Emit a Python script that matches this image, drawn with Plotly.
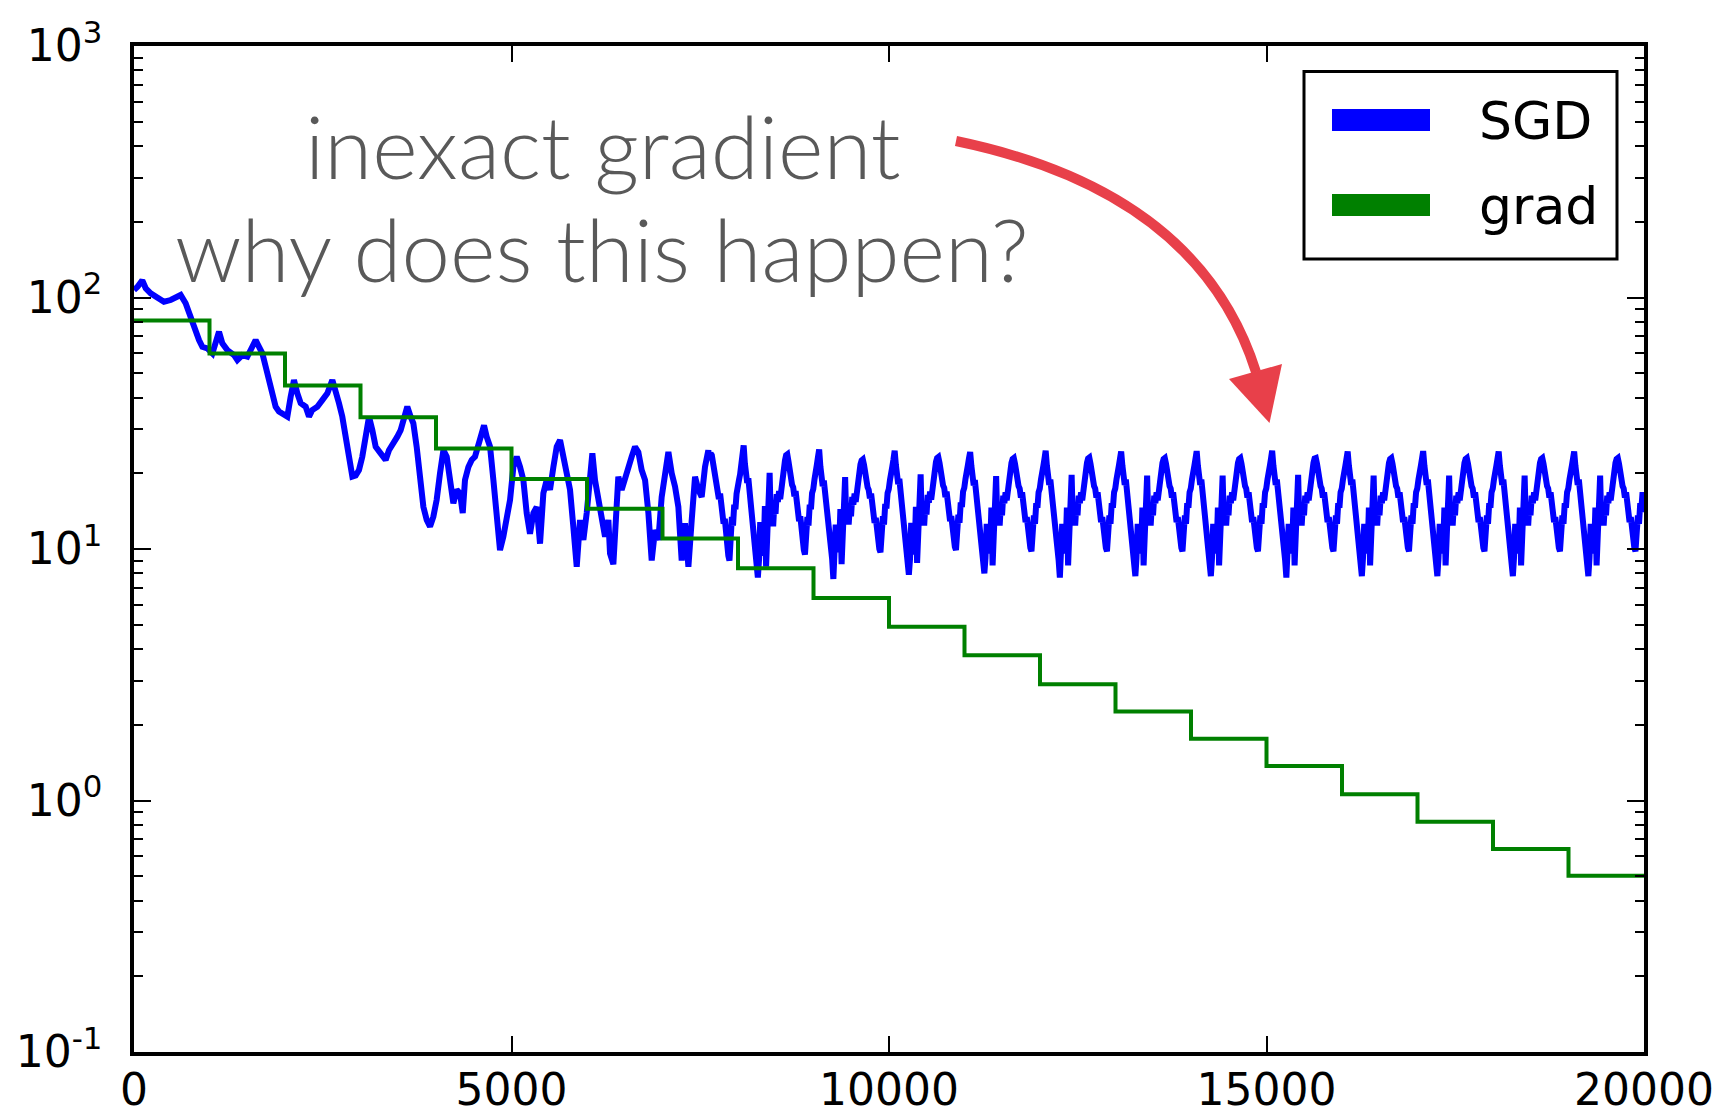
import plotly.graph_objects as go

# ---------------- data ----------------
# full-gradient method: one value per 1000 iterations (step function)
grad_x = [0, 1000, 2000, 3000, 4000, 5000, 6000, 7000, 8000, 9000, 10000,
          11000, 12000, 13000, 14000, 15000, 16000, 17000, 18000, 19000, 20000]
grad_y = [81, 59.9, 44.7, 33.4, 25.1, 18.97, 14.45, 11.0, 8.38, 6.38, 4.91,
          3.78, 2.90, 2.26, 1.76, 1.37, 1.06, 0.824, 0.641, 0.502]

# SGD: transient part read point by point
sgd_early_x = [0, 44, 110, 155, 221, 309, 397, 486, 552, 618, 684, 728, 773, 817, 861, 905,
               971, 1038, 1082, 1126, 1170, 1236, 1325, 1369, 1435, 1501, 1567, 1611, 1656,
               1700, 1744, 1788, 1832, 1876, 1920, 1987, 2031, 2075, 2119, 2163, 2208, 2274,
               2318, 2362, 2428, 2494, 2561, 2627, 2671, 2715, 2759, 2803, 2848, 2892, 2936,
               2980, 3024, 3068, 3113, 3157, 3201, 3267, 3333, 3377, 3422, 3488, 3532, 3576,
               3620, 3664, 3700, 3744, 3788, 3833, 3877, 3921, 3965, 4009, 4053, 4098, 4142,
               4186, 4230, 4274, 4318, 4354, 4384, 4429, 4473, 4517, 4561, 4605, 4636, 4671,
               4716, 4760, 4804, 4848, 4892, 4936, 4981, 5025, 5069, 5113, 5157, 5201, 5245,
               5290, 5334, 5378, 5422, 5466, 5510, 5555, 5599, 5643, 5687, 5731, 5775, 5819,
               5864, 5908, 5952, 5996, 6040, 6071, 6106, 6150, 6194, 6239, 6283, 6305, 6349,
               6393, 6415, 6459, 6504, 6548, 6592, 6636, 6680, 6724, 6769, 6813, 6857, 6901,
               6945, 6989, 7034, 7078, 7122, 7166, 7210, 7254, 7298, 7343, 7387, 7431, 7475,
               7519, 7563, 7607]
sgd_early_y = [107, 110, 117, 108.8, 103.9, 100.7, 96.2, 97.7, 99.3, 102.3, 94.8, 86.5, 78.9,
               73.1, 67.7, 63.7, 62.8, 60, 66.8, 73.1, 65.7, 61.8, 59, 56.4, 59, 58.2, 63.7,
               67.7, 63.7, 60, 53.1, 47, 41.6, 36.8, 35.2, 34.1, 33.6, 40.3, 47, 41.6, 38,
               36.8, 33.6, 35.7, 36.8, 39.1, 41.6, 47, 42.9, 38, 33.6, 27.96, 22.6, 19.4, 19.6,
               20.6, 23.3, 28.8, 33.6, 29.7, 25.5, 24.0, 22.6, 24.7, 26.3, 27.96, 29.7, 33.6,
               36.8, 33.6, 31.6, 25.5, 19.4, 14.7, 13.04, 12.27, 13.45, 15.7, 20.0, 24.7, 23.3,
               18.8, 15.2, 17.2, 16.65, 13.9, 18.8, 21.2, 22.6, 23.3, 26.3, 29.7, 31.0, 27.96,
               25.5, 18.8, 13.9, 9.9, 11.2, 13.04, 15.7, 21.2, 23.3, 21.2, 18.8, 13.9, 11.5,
               13.9, 14.7, 10.5, 16.65, 18.8, 17.2, 21.2, 25.5, 27.1, 23.3, 21.2, 17.2, 12.27,
               8.5, 13.04, 10.86, 13.9, 18.8, 24.0, 18.8, 16.1, 13.04, 11.2, 13.04, 9.6, 8.7,
               13.9, 19.4, 17.2, 18.8, 20.6, 23.3, 25.5, 24.3, 20.6, 18.8, 13.9, 9.0, 11.9,
               10.86, 16.1, 19.4, 24.3, 20.0, 17.7, 14.7, 9.0, 12.65, 8.5, 13.04, 19.4, 17.2,
               16.1, 21.2, 24.7]

# SGD: steady oscillating regime, read cycle by cycle (1000 iterations per cycle,
# read every ~15.6 iterations, starting at each sharp peak)
sgd_cycle_offsets = [0, 16, 31, 47, 62, 78, 94, 109, 125, 141, 156, 172, 188, 203, 219, 234,
                     250, 266, 281, 297, 312, 328, 344, 359, 375, 391, 406, 422, 438, 453,
                     469, 484, 500, 516, 531, 547, 562, 578, 594, 609, 625, 641, 656, 672,
                     688, 703, 719, 734, 750, 766, 781, 797, 812, 828, 844, 859, 875, 891,
                     906, 922, 938, 953, 969, 984]
sgd_cycle_starts = [7075, 8075, 9075, 10075, 11075, 12075, 13075, 14075, 15075, 16075,
                    17075, 18075, 19075]
# partial cycle (read from offset 547 on)
sgd_cycle_7075 = [22.6, 24.0, 23.6, 21.9, 19.8, 18.6, 17.9, 17.2, 15.8, 16.6, 14.6, 13.8, 12.6,
                  13.2, 11.0, 10.2, 9.4, 9.0, 10.9, 13.4, 12.4, 15.0, 14.4, 16.6, 17.3, 18.8,
                  19.8, 21.6, 23.2]
sgd_cycle_8075 = [25.8, 21.9, 19.2, 18.3, 19.1, 17.1, 16.6, 15.1, 13.1, 10.9, 9.6, 8.8, 7.7, 9.0, 12.8, 9.4,
                  11.8, 10.2, 14.8, 8.5, 12.0, 14.1, 20.1, 13.2, 15.3, 12.3, 15.1, 13.8, 16.5, 15.4,
                  17.0, 15.8, 17.9, 18.9, 20.6, 22.5, 23.6, 23.8, 22.3, 19.9, 19.1, 18.0, 17.6, 16.2,
                  17.0, 15.0, 14.3, 12.9, 13.5, 11.5, 10.6, 9.9, 9.5, 10.8, 13.4, 12.4, 15.0, 14.4,
                  16.7, 17.3, 18.9, 19.7, 21.6, 23.2]
sgd_cycle_9075 = [24.9, 21.3, 18.9, 17.8, 18.7, 16.9, 16.2, 14.8, 13.3, 11.1, 9.9, 9.1, 7.6, 9.3, 12.5, 9.7,
                  11.5, 10.5, 14.4, 8.7, 11.7, 13.8, 19.3, 12.9, 14.8, 12.5, 14.7, 13.5, 16.1, 15.0,
                  16.6, 15.4, 17.4, 18.4, 20.0, 21.7, 22.5, 22.7, 21.6, 19.4, 18.6, 17.6, 17.2, 15.9,
                  16.6, 14.7, 14.1, 12.7, 13.3, 11.3, 10.7, 10.0, 9.7, 11.0, 13.5, 12.5, 15.1, 14.5,
                  16.7, 17.3, 18.8, 19.5, 21.3, 22.7]
sgd_cycle_10075 = [24.6, 21.6, 19.1, 18.1, 19.0, 17.0, 16.5, 15.0, 13.1, 11.0, 9.7, 8.9, 7.9, 9.1, 12.7, 9.5,
                   11.7, 10.3, 14.7, 8.8, 11.9, 14.0, 19.8, 13.1, 15.1, 12.4, 15.0, 13.7, 16.4, 15.3,
                   16.9, 15.7, 17.7, 18.7, 20.3, 22.2, 23.0, 23.2, 22.0, 19.7, 18.9, 17.9, 17.5, 16.1,
                   16.9, 14.9, 14.3, 12.9, 13.5, 11.5, 10.9, 10.2, 9.9, 11.1, 13.7, 12.7, 15.3, 14.7,
                   16.9, 17.5, 19.0, 19.7, 21.5, 22.9]
sgd_cycle_11075 = [24.3, 21.4, 18.9, 17.9, 18.8, 16.9, 16.3, 14.9, 13.2, 11.0, 9.8, 9.0, 8.0, 9.2, 12.6, 9.6,
                   11.6, 10.4, 14.6, 8.6, 11.8, 13.9, 19.5, 13.0, 15.0, 12.4, 14.9, 13.6, 16.3, 15.2,
                   16.8, 15.6, 17.6, 18.6, 20.2, 22.0, 22.8, 23.0, 21.8, 19.6, 18.8, 17.8, 17.4, 16.0,
                   16.8, 14.8, 14.2, 12.8, 13.4, 11.4, 10.8, 10.1, 9.8, 11.0, 13.6, 12.6, 15.2, 14.6,
                   16.8, 17.4, 18.9, 19.6, 21.4, 22.8]
sgd_cycle_12075 = [24.6, 21.5, 19.0, 18.0, 18.9, 17.0, 16.4, 15.0, 13.2, 11.0, 9.8, 9.0, 7.7, 9.2, 12.6, 9.6,
                   11.6, 10.4, 14.6, 8.6, 11.8, 13.9, 19.7, 13.0, 15.0, 12.4, 14.9, 13.6, 16.3, 15.2,
                   16.8, 15.6, 17.6, 18.6, 20.2, 22.0, 22.9, 23.1, 21.8, 19.6, 18.8, 17.8, 17.4, 16.0,
                   16.8, 14.8, 14.2, 12.8, 13.4, 11.4, 10.8, 10.1, 9.8, 11.0, 13.6, 12.6, 15.2, 14.6,
                   16.8, 17.4, 18.9, 19.6, 21.4, 22.8]
sgd_cycle_13075 = [24.4, 21.5, 19.0, 18.0, 18.9, 17.0, 16.4, 15.0, 13.2, 11.0, 9.8, 9.0, 7.8, 9.2, 12.6, 9.6,
                   11.6, 10.4, 14.6, 8.6, 11.8, 13.9, 19.6, 13.0, 15.0, 12.4, 14.9, 13.6, 16.3, 15.2,
                   16.8, 15.6, 17.6, 18.6, 20.2, 22.0, 22.8, 23.0, 21.8, 19.6, 18.8, 17.8, 17.4, 16.0,
                   16.8, 14.8, 14.2, 12.8, 13.4, 11.4, 10.8, 10.1, 9.8, 11.0, 13.6, 12.6, 15.2, 14.6,
                   16.8, 17.4, 18.9, 19.6, 21.4, 22.8]
sgd_cycle_14075 = [24.5, 21.5, 19.0, 18.0, 18.9, 17.0, 16.4, 15.0, 13.2, 11.0, 9.8, 9.0, 7.8, 9.2, 12.6, 9.6,
                   11.6, 10.4, 14.6, 8.6, 11.8, 13.9, 19.6, 13.0, 15.0, 12.4, 14.9, 13.6, 16.3, 15.2,
                   16.8, 15.6, 17.6, 18.6, 20.2, 22.0, 22.8, 23.0, 21.8, 19.6, 18.8, 17.8, 17.4, 16.0,
                   16.8, 14.8, 14.2, 12.8, 13.4, 11.4, 10.8, 10.1, 9.8, 11.0, 13.6, 12.6, 15.2, 14.6,
                   16.8, 17.4, 18.9, 19.6, 21.4, 22.8]
sgd_cycle_15075 = [24.6, 21.5, 19.0, 18.0, 18.9, 17.0, 16.4, 15.0, 13.2, 11.0, 9.8, 9.0, 7.7, 9.2, 12.6, 9.6,
                   11.6, 10.4, 14.6, 8.6, 11.8, 13.9, 19.7, 13.0, 15.0, 12.4, 14.9, 13.6, 16.3, 15.2,
                   16.8, 15.6, 17.6, 18.6, 20.2, 22.0, 22.9, 23.0, 21.8, 19.6, 18.8, 17.8, 17.4, 16.0,
                   16.8, 14.8, 14.2, 12.8, 13.4, 11.4, 10.8, 10.1, 9.8, 11.0, 13.6, 12.6, 15.2, 14.6,
                   16.8, 17.4, 18.9, 19.6, 21.4, 22.8]
sgd_cycle_16075 = [24.4, 21.5, 19.0, 18.0, 18.9, 17.0, 16.4, 15.0, 13.2, 11.0, 9.8, 9.0, 7.8, 9.2, 12.6, 9.6,
                   11.6, 10.4, 14.6, 8.6, 11.8, 13.9, 19.6, 13.0, 15.0, 12.4, 14.9, 13.6, 16.3, 15.2,
                   16.8, 15.6, 17.6, 18.6, 20.2, 22.0, 22.8, 23.0, 21.8, 19.6, 18.8, 17.8, 17.4, 16.0,
                   16.8, 14.8, 14.2, 12.8, 13.4, 11.4, 10.8, 10.1, 9.8, 11.0, 13.6, 12.6, 15.2, 14.6,
                   16.8, 17.4, 18.9, 19.6, 21.4, 22.8]
sgd_cycle_17075 = [24.5, 21.5, 19.0, 18.0, 18.9, 17.0, 16.4, 15.0, 13.2, 11.0, 9.8, 9.0, 7.8, 9.2, 12.6, 9.6,
                   11.6, 10.4, 14.6, 8.6, 11.8, 13.9, 19.6, 13.0, 15.0, 12.4, 14.9, 13.6, 16.3, 15.2,
                   16.8, 15.6, 17.6, 18.6, 20.2, 22.0, 22.8, 23.0, 21.8, 19.6, 18.8, 17.8, 17.4, 16.0,
                   16.8, 14.8, 14.2, 12.8, 13.4, 11.4, 10.8, 10.1, 9.8, 11.0, 13.6, 12.6, 15.2, 14.6,
                   16.8, 17.4, 18.9, 19.6, 21.4, 22.8]
sgd_cycle_18075 = [24.4, 21.5, 19.0, 18.0, 18.9, 17.0, 16.4, 15.0, 13.2, 11.0, 9.8, 9.0, 7.8, 9.2, 12.6, 9.6,
                   11.6, 10.4, 14.6, 8.6, 11.8, 13.9, 19.6, 13.0, 15.0, 12.4, 14.9, 13.6, 16.3, 15.2,
                   16.8, 15.6, 17.6, 18.6, 20.2, 22.0, 22.8, 23.0, 21.8, 19.6, 18.8, 17.8, 17.4, 16.0,
                   16.8, 14.8, 14.2, 12.8, 13.4, 11.4, 10.8, 10.1, 9.8, 11.0, 13.6, 12.6, 15.2, 14.6,
                   16.8, 17.4, 18.9, 19.6, 21.4, 22.8]
# last cycle is cut by the end of the run
sgd_cycle_19075 = [24.4, 21.5, 19.0, 18.0, 18.9, 17.0, 16.4, 15.0, 13.2, 11.0, 9.8, 9.0, 7.8, 9.2, 12.6, 9.6,
                   11.6, 10.4, 14.6, 8.6, 11.8, 13.9, 19.6, 13.0, 15.0, 12.4, 14.9, 13.6, 16.3, 15.2,
                   16.8, 15.6, 17.6, 18.6, 20.2, 22.0, 22.8, 23.0, 21.8, 19.6, 18.8, 17.8, 17.4, 16.0,
                   16.8, 14.8, 14.2, 12.8, 13.4, 11.4, 10.8, 10.1, 9.8, 11.0, 13.6, 12.6, 15.2, 14.6,
                   16.8]
sgd_end_x = 20000
sgd_end_y = 14.0

y_tick_vals = [0.1, 1, 10, 100, 1000]
y_tick_text = ['10<sup>-1</sup>', '10<sup>0</sup>', '10<sup>1</sup>', '10<sup>2</sup>', '10<sup>3</sup>']
x_tick_vals = [0, 5000, 10000, 15000, 20000]
x_tick_text = ['0', '5000', '10000', '15000', '20000']

# ---------------- assemble series ----------------
sgd_x = list(sgd_early_x)
sgd_y = list(sgd_early_y)
part_offsets = sgd_cycle_offsets[len(sgd_cycle_offsets) - len(sgd_cycle_7075):]
for off, v in zip(part_offsets, sgd_cycle_7075):
    sgd_x.append(sgd_cycle_starts[0] + off)
    sgd_y.append(v)
rows = [sgd_cycle_8075, sgd_cycle_9075, sgd_cycle_10075, sgd_cycle_11075, sgd_cycle_12075,
        sgd_cycle_13075, sgd_cycle_14075, sgd_cycle_15075, sgd_cycle_16075, sgd_cycle_17075,
        sgd_cycle_18075, sgd_cycle_19075]
for start, row in zip(sgd_cycle_starts[1:], rows):
    for off, v in zip(sgd_cycle_offsets, row):
        sgd_x.append(start + off)
        sgd_y.append(v)
sgd_x.append(sgd_end_x)
sgd_y.append(sgd_end_y)

grad_plot_y = grad_y + [grad_y[-1]]

# ---------------- figure ----------------
W, H = 1727, 1111
L, R, T, B = 134, 83, 46, 59
pw, ph = W - L - R, H - T - B


def px(x):
    return (x - L) / pw


def py(y):
    return (H - B - y) / ph


fig = go.Figure()
fig.add_trace(go.Scatter(x=sgd_x, y=sgd_y, mode='lines', name='SGD',
                         line=dict(color='#0000ff', width=6), showlegend=False))
fig.add_trace(go.Scatter(x=grad_x, y=grad_plot_y, mode='lines', name='grad',
                         line=dict(color='#008000', width=4, shape='hv'), showlegend=False))

tickfont = dict(family='DejaVu Sans', size=44, color='black')
minor_vals = [m * 10 ** e for e in range(-1, 3) for m in range(2, 10)]

fig.update_layout(
    width=W, height=H,
    margin=dict(l=L, r=R, t=T, b=B, pad=0),
    paper_bgcolor='white', plot_bgcolor='white',
    showlegend=False,
    xaxis=dict(range=[0, 20000], showline=True, linecolor='black', linewidth=3.5,
               mirror='ticks', ticks='inside', ticklen=16, tickwidth=1.5, tickcolor='black',
               tickmode='array', tickvals=x_tick_vals, ticktext=x_tick_text,
               tickfont=tickfont, showgrid=False, zeroline=False, automargin=False,
               ticklabelstandoff=-4),
    yaxis=dict(type='log', range=[-1, 3], showline=True, linecolor='black', linewidth=3.5,
               mirror='ticks', ticks='inside', ticklen=17, tickwidth=2, tickcolor='black',
               tickmode='array', tickvals=y_tick_vals, ticktext=y_tick_text,
               tickfont=tickfont, showgrid=False, zeroline=False, automargin=False,
               ticklabelstandoff=19,
               minor=dict(tickmode='array', tickvals=minor_vals, ticks='inside', ticklen=9,
                          tickwidth=2, tickcolor='black', showgrid=False)),
)

red = '#e8404a'
# curved arrow
p0 = (956, 141)
c1 = (1199, 191.5)
p3 = (1256, 372)
fig.add_shape(type='path', xref='paper', yref='paper',
              path=f'M {px(p0[0])},{py(p0[1])} Q {px(c1[0])},{py(c1[1])} {px(p3[0])},{py(p3[1])}',
              line=dict(color=red, width=10), fillcolor='rgba(0,0,0,0)')
h1, h2, h3 = (1229, 379), (1282, 364), (1269.5, 423)
fig.add_shape(type='path', xref='paper', yref='paper',
              path=f'M {px(h1[0])},{py(h1[1])} L {px(h2[0])},{py(h2[1])} L {px(h3[0])},{py(h3[1])} Z',
              line=dict(color=red, width=0), fillcolor=red)

# legend box
fig.add_shape(type='rect', xref='paper', yref='paper',
              x0=px(1304), x1=px(1617), y0=py(259), y1=py(71.5),
              line=dict(color='black', width=3), fillcolor='white')
fig.add_shape(type='line', xref='paper', yref='paper',
              x0=px(1332), x1=px(1430), y0=py(120), y1=py(120),
              line=dict(color='#0000ff', width=22))
fig.add_shape(type='line', xref='paper', yref='paper',
              x0=px(1332), x1=px(1430), y0=py(205), y1=py(205),
              line=dict(color='#008000', width=22))
legfont = dict(family='DejaVu Sans', size=52, color='black')
fig.add_annotation(text='SGD', xref='paper', yref='paper', x=px(1477), y=py(121),
                   xanchor='left', yanchor='middle', showarrow=False, font=legfont)
fig.add_annotation(text='grad', xref='paper', yref='paper', x=px(1477), y=py(206),
                   xanchor='left', yanchor='middle', showarrow=False, font=legfont)

# annotation text
notefont = dict(family='Lato', size=87, color='#595959', weight=300)
fig.add_annotation(text='inexact gradient', xref='paper', yref='paper', x=px(603), y=py(145),
                   xanchor='center', yanchor='middle', showarrow=False, font=notefont)
fig.add_annotation(text='why does this happen?', xref='paper', yref='paper', x=px(601), y=py(249),
                   xanchor='center', yanchor='middle', showarrow=False, font=notefont)

fig.write_html('out.html')
